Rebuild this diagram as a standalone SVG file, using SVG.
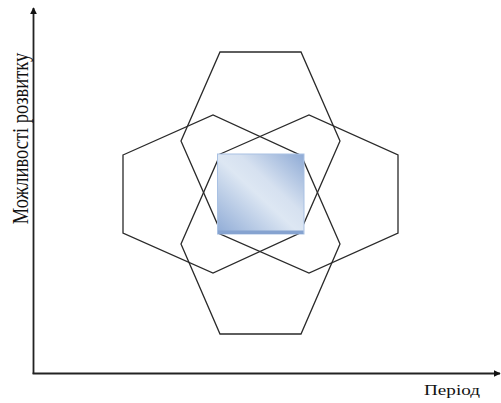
<svg xmlns="http://www.w3.org/2000/svg" width="501" height="403" viewBox="0 0 501 403">
<style>
.axis{stroke:#222;stroke-width:1.8;fill:none}
.hex{stroke:#2a2a2a;stroke-width:1.3;fill:none;stroke-linejoin:miter}
.lbl{font-family:"Liberation Serif","Times New Roman",serif;fill:#111}
</style>
<defs>
<marker id="arr" viewBox="0 0 10 10" refX="9" refY="5" markerWidth="7" markerHeight="7" markerUnits="userSpaceOnUse" orient="auto">
<path d="M0,0 L10,5 L0,10 z" fill="#111"/>
</marker>
<linearGradient id="sq" x1="0" y1="1" x2="1" y2="0">
<stop offset="0" stop-color="#8fabd6"/>
<stop offset="0.48" stop-color="#dde7f3"/>
<stop offset="0.62" stop-color="#d6e1f0"/>
<stop offset="1" stop-color="#8eaad5"/>
</linearGradient>
</defs>
<g id="connectors">
<line class="axis" x1="33.5" y1="374" x2="33.5" y2="8" marker-end="url(#arr)"/>
<line class="axis" x1="32.6" y1="373.5" x2="500" y2="373.5" marker-end="url(#arr)"/>
</g>
<g id="hex-top"><polygon class="hex" points="220,52 301,52 340,141 301,230 220,230 181,141"/></g>
<g id="hex-bottom"><polygon class="hex" points="220,155 301,155 340,244 301,334 220,334 181,244"/></g>
<g id="hex-left"><polygon class="hex" points="123,155 213,115 300,155 300,233 213,273 123,233"/></g>
<g id="hex-right"><polygon class="hex" points="218,155 309,115 398,155 398,233 309,273 218,233"/></g>
<g id="center-square">
<rect x="217.5" y="154" width="86.5" height="80" fill="url(#sq)" stroke="#a9c1e3" stroke-width="1"/>
<rect x="218" y="230.5" width="85.5" height="3.5" fill="#86a3d0"/>
</g>
<g id="labels">
<text class="lbl" transform="translate(28,138.5) scale(1.25,1) rotate(-90)" font-size="18.5" text-anchor="middle">Можливості розвитку</text>
<text class="lbl" x="424" y="395" font-size="15" textLength="56" lengthAdjust="spacingAndGlyphs">Період</text>
</g>
</svg>
